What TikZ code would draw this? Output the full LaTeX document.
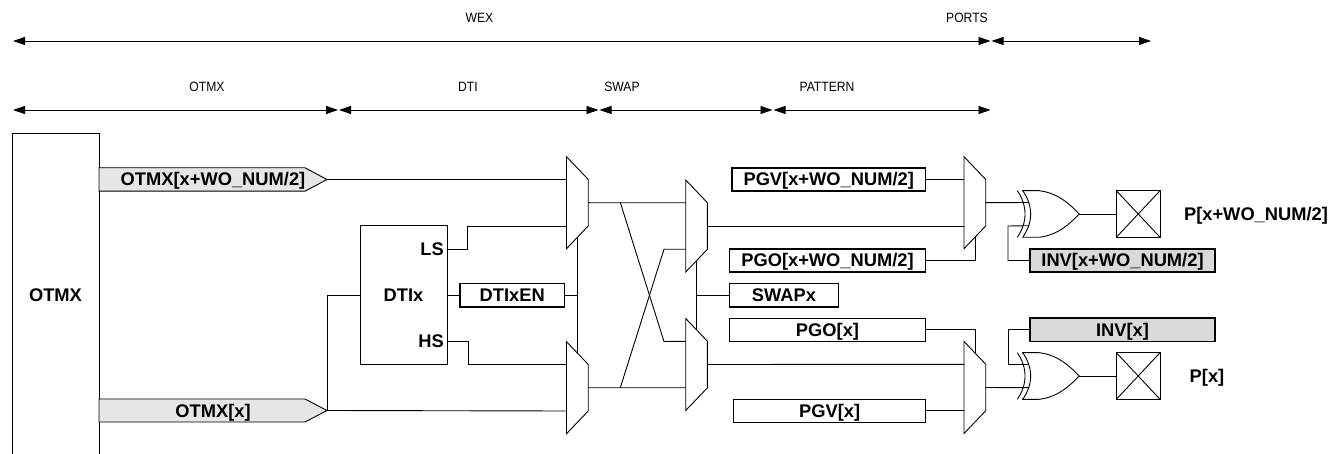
\documentclass[tikz,border=0pt]{standalone}
\usepackage{fontspec}
\setmainfont{Liberation Sans}
\newfontfamily\tallfont[FakeStretch=0.9]{Liberation Sans}
\usetikzlibrary{arrows.meta,calc}
\tikzset{
  wire/.style={draw=black,line width=0.9pt},
  span/.style={draw=black,line width=0.9pt,{Triangle[length=12pt,width=8pt]}-{Triangle[length=12pt,width=8pt]}},
  small/.style={font=\tallfont\fontsize{13.5pt}{15pt}\selectfont,inner sep=0pt,text height=10pt,text depth=0pt},
  big/.style={font=\bfseries\fontsize{18.3pt}{20pt}\selectfont,inner sep=0pt,outer sep=0pt,text height=13pt,text depth=0pt},
  regbox/.style={big,draw=black,line width=1.7pt,minimum height=23.3pt},
  thinbox/.style={big,draw=black,line width=1.2pt,minimum height=23.3pt},
  invbox/.style={thinbox,line width=1.6pt,fill=invgray},
  block/.style={big,draw=black,line width=0.9pt},
  portbox/.style={draw=black,line width=0.9pt,minimum width=43.7pt,minimum height=46.6pt,inner sep=0pt,outer sep=0pt},
  bus/.style={draw=black,line width=0.9pt,fill=busgray},
}
\definecolor{busgray}{HTML}{E6E6E6}
\definecolor{invgray}{HTML}{D9D9D9}
% name, left x, top y
\newcommand{\muxat}[3]{%
  \begin{scope}[shift={(#2,#3)}]
    \draw[wire,fill=white,line join=miter] (0,0) -- (21.7,22.7) -- (21.7,69.3) -- (0,92) -- cycle;
    \coordinate (#1-a) at (0,22.8);
    \coordinate (#1-b) at (0,69.3);
    \coordinate (#1-o) at (21.7,46);
    \coordinate (#1-st) at (11,11.4);
    \coordinate (#1-sb) at (11,80.8);
  \end{scope}}
% name, left x, top y
\newcommand{\xorat}[3]{%
  \begin{scope}[shift={(#2,#3)}]
    \draw[wire] (0,0) .. controls (10.3,15) and (10.3,31.6) .. (0,46.6);
    \draw[wire,fill=white] (5.4,0) -- (21.7,0) .. controls (40,2) and (52,13) .. (62,23.3)
       .. controls (52,33.6) and (40,44.6) .. (21.7,46.6) -- (5.4,46.6)
       .. controls (16,31.6) and (16,15) .. (5.4,0) -- cycle;
    \coordinate (#1-a) at (11.7,11.8);
    \coordinate (#1-b) at (11.7,35);
    \coordinate (#1-o) at (62,23.3);
  \end{scope}}
\begin{document}
\begin{tikzpicture}[x=1pt,y=-1pt]
\useasboundingbox[fill=white] (0,0) rectangle (1339,454);

% span arrows
\coordinate (w1) at (13,41); \coordinate (w2) at (990.5,41); \coordinate (w3) at (991.5,41); \coordinate (w4) at (1151,41);
\coordinate (s0) at (13,110); \coordinate (s1) at (338,110); \coordinate (s1b) at (339,110);
\coordinate (s2) at (598.5,110); \coordinate (s2b) at (599.5,110); \coordinate (s3) at (772.5,110); \coordinate (s3b) at (773.5,110); \coordinate (s4) at (990.5,110);
\draw[span] (w1) -- (w2);
\draw[span] (w3) -- (w4);
\draw[span] (s0) -- (s1);
\draw[span] (s1b) -- (s2);
\draw[span] (s2b) -- (s3);
\draw[span] (s3b) -- (s4);
\node[small] (lwex) at (479.5,18) {WEX};
\node[small] (lports) at (967,17.5) {PORTS};
\node[small] (lotmx) at (207,87) {OTMX};
\node[small] (ldti) at (468,87) {DTI};
\node[small] (lswap) at (622,87) {SWAP};
\node[small] (lpat) at (827,87) {PATTERN};

% OTMX block (runs off the bottom)
\coordinate (ob1) at (12,454); \coordinate (ob2) at (99,454);
\draw[wire] (ob1) -- (12,133) -- (99,133) -- (ob2);
\node[big] (otmxl) at (55.5,295) {OTMX};

% buses
\coordinate (tipa) at (327,179.5);
\coordinate (tipb) at (327,410.5);
\draw[bus] (99,167.8) -- (305,167.8) -- (tipa) -- (305,191.2) -- (99,191.2) -- cycle;
\draw[bus] (99,399) -- (305,399) -- (tipb) -- (305,422) -- (99,422) -- cycle;
\node[big] (busa) at (213,179.5) {OTMX[x+WO\_NUM/2]};
\node[big] (busb) at (213,410.5) {OTMX[x]};

% muxes
\muxat{ma}{566.5}{156.7}
\muxat{mb}{566.5}{341.7}
\muxat{mc}{685.7}{180}
\muxat{md}{685.7}{318.5}
\muxat{me}{964}{156.7}
\muxat{mf}{964}{341.5}

% DTI block
\node[block,minimum width=87pt,minimum height=138.3pt] (dti) at (403.5,295) {DTIx};
\node[big,anchor=east] (ls) at (443.8,249) {LS};
\node[big,anchor=east] (hs) at (443.8,341) {HS};
\coordinate (dtils) at (dti.east |- ls);
\coordinate (dtihs) at (dti.east |- hs);
\node[regbox,minimum width=104.5pt] (dtien) at (512.2,295.3) {DTIxEN};

% registers
\node[regbox,minimum width=193.5pt] (pgva) at (828.7,179.5) {PGV[x+WO\_NUM/2]};
\node[regbox,minimum width=196pt] (pgoa) at (827.5,260.5) {PGO[x+WO\_NUM/2]};
\node[regbox,minimum width=109pt] (swap) at (784,295.3) {SWAPx};
\node[thinbox,minimum width=196pt] (pgob) at (827.5,329.8) {PGO[x]};
\node[thinbox,minimum width=191.8pt] (pgvb) at (829.6,410.8) {PGV[x]};
\node[invbox,minimum width=185pt] (inva) at (1122.5,260.5) {INV[x+WO\_NUM/2]};
\node[invbox,minimum width=185pt] (invb) at (1122.5,329.8) {INV[x]};

% XORs and ports
\xorat{xa}{1017.3}{190.7}
\xorat{xb}{1017.3}{352.7}
\node[portbox] (pa) at (1138.2,214) {};
\node[portbox] (pb) at (1138.2,376) {};
\draw[wire] (pa.north west) -- (pa.south east) (pa.north east) -- (pa.south west);
\draw[wire] (pb.north west) -- (pb.south east) (pb.north east) -- (pb.south west);
\node[big] (pal) at (1256,214) {P[x+WO\_NUM/2]};
\node[big] (pbl) at (1207,376) {P[x]};

% connectors
\draw[wire] (tipa) -- (ma-a);
\draw[wire] (tipb) -- (mb-b);
\draw[wire] (tipb) -- (tipb |- dti.west) -- (dti.west);
\draw[wire] (dtils) -- (467.5,249) |- (ma-b);
\draw[wire] (dtihs) -- (468.4,341) |- (mb-a);
\draw[wire] (dti.east |- dtien) -- (dtien.west);
\draw[wire] (ma-sb) -- (mb-st);
\draw[wire] (dtien.east) -- (dtien.east -| ma-sb);

\coordinate (xl) at (620.3,202.5);
\coordinate (xr) at (664,341.5);
\coordinate (yl) at (620.3,387.7);
\coordinate (yr) at (664,249.2);
\draw[wire] (ma-o) -- (mc-a);
\draw[wire] (mb-o) -- (md-b);
\draw[wire] (xl) -- (xr) -- (md-a);
\draw[wire] (yl) -- (yr) -- (mc-b);
\draw[wire] (mc-sb) -- (md-st);
\draw[wire] (swap.west) -- (swap.west -| mc-sb);

\draw[wire] (mc-o) -- (me-b);
\draw[wire] (md-o) -- (mf-a);
\draw[wire] (pgva.east) -- (me-a);
\draw[wire] (pgvb.east) -- (mf-b);
\draw[wire] (pgoa.east) -| (me-sb);
\draw[wire] (pgob.east) -| (mf-st);

\draw[wire] (me-o) -- (xa-a);
\draw[wire] (mf-o) -- (xb-b);
\draw[wire] (inva.west) -| (1008,226) -- (xa-b);
\draw[wire] (invb.west) -| (1008,364.5) -- (xb-a);
\draw[wire] (xa-o) -- (pa.west);
\draw[wire] (xb-o) -- (pb.west);
\end{tikzpicture}
\end{document}
